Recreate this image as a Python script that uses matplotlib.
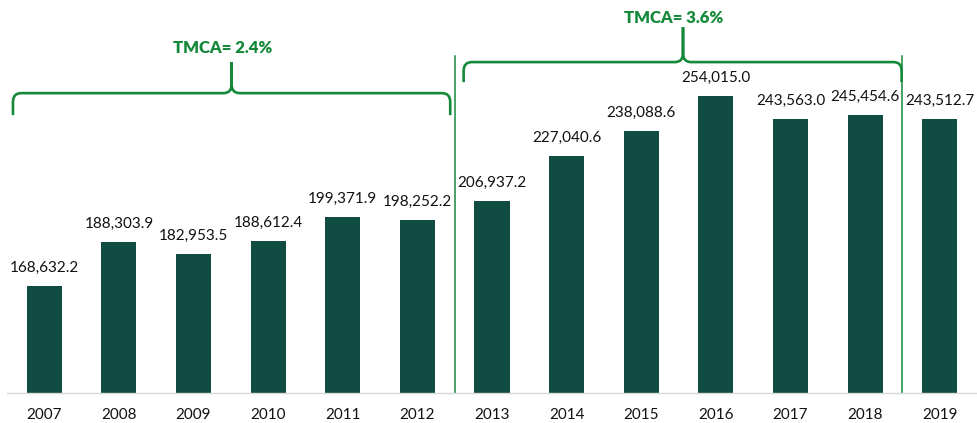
import numpy as np
import matplotlib.pyplot as plt
from matplotlib.path import Path
from matplotlib.patches import PathPatch
import matplotlib.transforms as mtransforms

# Chart data
years = ['2007', '2008', '2009', '2010', '2011', '2012', '2013',
         '2014', '2015', '2016', '2017', '2018', '2019']
values = [168632.2, 188303.9, 182953.5, 188612.4, 199371.9, 198252.2, 206937.2,
          227040.6, 238088.6, 254015.0, 243563.0, 245454.6, 243512.7]
cagr_labels = ['TMCA= 2.4%', 'TMCA= 3.6%']

BAR_COLOR = '#114c42'
GREEN = '#15893a'

plt.rcParams['font.family'] = ['Lato', 'DejaVu Sans']

fig = plt.figure(figsize=(9.77, 4.23), dpi=100)
ax = fig.add_axes([7 / 977, 30 / 423, 970 / 977, 393 / 423])

x = np.arange(len(years))
bars = ax.bar(x, values, width=0.47, color=BAR_COLOR)

for xi, v in zip(x, values):
    ax.annotate(f"{v:,.1f}", (xi, v), xytext=(0, 8), textcoords='offset points',
                ha='center', va='bottom', fontsize=11, color='#111111')

ax.set_xlim(-0.5, len(years) - 0.5)
ax.set_ylim(120500, 297100)
ax.set_xticks(x)
ax.set_xticklabels(years, fontsize=11, color='#111111')
ax.tick_params(axis='x', length=0, pad=11)
ax.set_yticks([])
for side in ['top', 'left', 'right']:
    ax.spines[side].set_visible(False)
ax.spines['bottom'].set_color('#d9d9d9')
ax.spines['bottom'].set_linewidth(1)

trans = mtransforms.blended_transform_factory(ax.transData, ax.transAxes)

# period separators
for sx in [5.5, 11.5]:
    ax.plot([sx, sx], [0, 0.857], transform=trans, color=GREEN, lw=1.1,
            clip_on=False)


def draw_brace(x0, x1, xc, y_tip, y_h, y_spike, label, y_text):
    rx, ry = 0.11, 0.022
    verts = [(x0, y_tip), (x0, y_h - ry), (x0, y_h), (x0 + rx, y_h),
             (xc - rx, y_h), (xc, y_h), (xc, y_h + ry), (xc, y_spike),
             (xc, y_h + ry), (xc, y_h), (xc + rx, y_h),
             (x1 - rx, y_h), (x1, y_h), (x1, y_h - ry), (x1, y_tip)]
    codes = [Path.MOVETO, Path.LINETO, Path.CURVE3, Path.CURVE3,
             Path.LINETO, Path.CURVE3, Path.CURVE3, Path.LINETO,
             Path.LINETO, Path.CURVE3, Path.CURVE3,
             Path.LINETO, Path.CURVE3, Path.CURVE3, Path.LINETO]
    patch = PathPatch(Path(verts, codes), transform=trans, fill=False,
                      edgecolor=GREEN, lw=1.9, clip_on=False, capstyle='butt')
    ax.add_patch(patch)
    ax.text(xc - 0.12, y_text, label, transform=trans, ha='center', va='center',
            fontsize=12, fontweight='heavy', color=GREEN)


draw_brace(-0.42, 5.44, 2.51, 0.707, 0.763, 0.842, cagr_labels[0], 0.878)
draw_brace(5.62, 11.49, 8.56, 0.791, 0.842, 0.931, cagr_labels[1], 0.954)

fig.savefig('out.png', dpi=100)
